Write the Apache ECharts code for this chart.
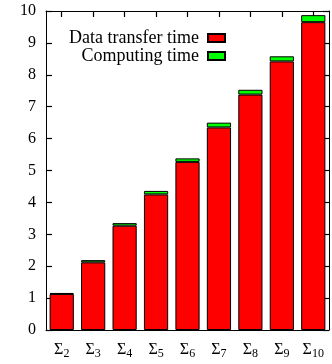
<!DOCTYPE html>
<html><head><meta charset="utf-8">
<script src="https://cdn.jsdelivr.net/npm/echarts@6/dist/echarts.min.js"></script>
<style>html,body{margin:0;padding:0;background:#fff}#c{width:332px;height:364px}</style>
</head><body><div id="c"></div>
<script>
const categories = ['2','3','4','5','6','7','8','9','10'];
const transferTime = [1.13, 2.12, 3.27, 4.25, 5.27, 6.35, 7.38, 8.42, 9.65];
const computingTime = [0.03, 0.07, 0.08, 0.11, 0.11, 0.15, 0.15, 0.16, 0.22];
const yTicks = [0,1,2,3,4,5,6,7,8,9,10];
const F = 'Liberation Serif';
const chart = echarts.init(document.getElementById('c'), null, {renderer:'canvas'});
const axisLineStyle = {color:'#000', width:1};
chart.setOption({
  animation:false,
  backgroundColor:'#fff',
  textStyle:{fontFamily:F},
  grid:{left:46, right:3, top:11, bottom:34},
  legend:{
    orient:'vertical', align:'right', right:106, top:29, padding:0,
    icon:'rect', itemWidth:17, itemHeight:8, itemGap:0,
    textStyle:{fontFamily:F, fontSize:18, color:'#000', padding:[0,4,0,0], lineHeight:16},
    data:['Data transfer time','Computing time']
  },
  xAxis:[{
    type:'category', data:categories, position:'bottom',
    axisLine:{lineStyle:axisLineStyle}, axisTick:{show:false},
    axisLabel:{interval:0, margin:9, formatter:v=>'{s|Σ}{b|'+v+'}',
      rich:{s:{fontFamily:F,fontSize:16,color:'#000'},b:{fontFamily:F,fontSize:12,color:'#000',verticalAlign:'bottom',padding:[9,0,0,0]}}}
  },{
    type:'category', data:categories, position:'top', show:true,
    axisLine:{show:true, onZero:false, lineStyle:axisLineStyle},
    axisTick:{show:true, interval:0, inside:true, alignWithLabel:true, length:6, lineStyle:{color:'#000', width:1.2}},
    axisLabel:{show:false, interval:0}
  }],
  yAxis:[{
    type:'value', min:0, max:10, interval:1, position:'left',
    axisLine:{show:true, lineStyle:axisLineStyle},
    axisTick:{show:true, inside:true, length:6, lineStyle:{color:'#000', width:1.2}},
    splitLine:{show:false},
    axisLabel:{fontFamily:F, fontSize:16, color:'#000', margin:10, formatter:v=>yTicks.includes(v)?String(v):''}
  },{
    type:'value', min:0, max:10, interval:1, position:'right',
    axisLine:{show:true, lineStyle:axisLineStyle},
    axisTick:{show:true, inside:true, length:6, lineStyle:{color:'#000', width:1.2}},
    splitLine:{show:false}, axisLabel:{show:false}
  }],
  series:[{
    name:'Data transfer time', type:'bar', stack:'t', data:transferTime, barCategoryGap:'23%',
    itemStyle:{color:'#ff0000', borderColor:'#000', borderWidth:1}
  },{
    name:'Computing time', type:'bar', stack:'t', data:computingTime,
    itemStyle:{color:'#00ff00', borderColor:'#000', borderWidth:1}
  },{
    name:'_top', type:'bar', xAxisIndex:1, yAxisIndex:1, data:[], silent:true
  }]
});
</script></body></html>
